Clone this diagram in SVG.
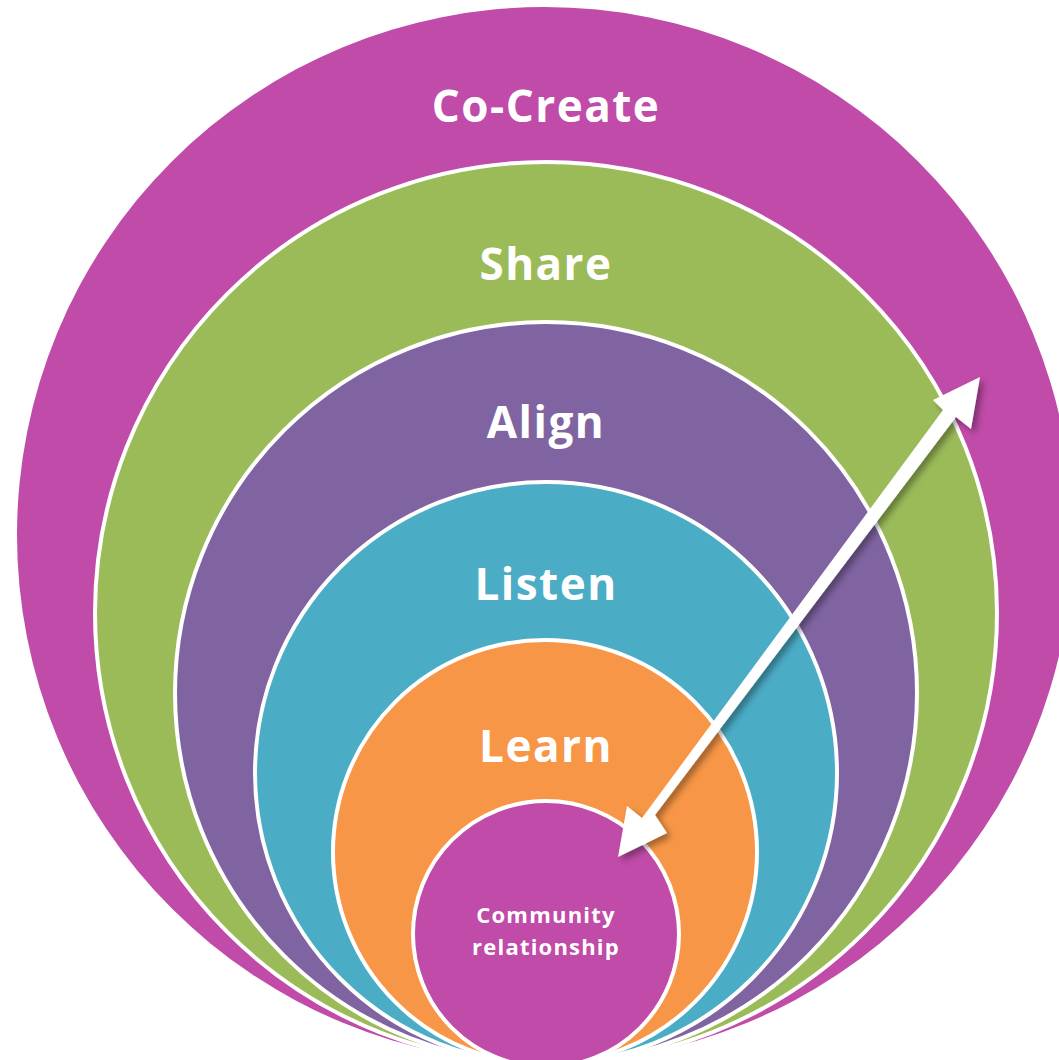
<svg xmlns="http://www.w3.org/2000/svg" width="1059" height="1060" viewBox="0 0 1059 1060">
<defs>
<style>
.ring{stroke:#fff;stroke-width:4}
.lbl{font-family:"Open Sans","Liberation Sans",sans-serif;font-weight:700;fill:#fff;text-anchor:middle}
.big{font-size:44px;letter-spacing:1.5px}
.small{font-size:22px;letter-spacing:1.2px}
</style>
<filter id="sh" x="-20%" y="-20%" width="140%" height="140%">
<feDropShadow dx="4" dy="4" stdDeviation="3" flood-color="#000" flood-opacity="0.35"/>
</filter>
</defs>
<rect width="1059" height="1060" fill="#fff"/>
<g id="co-create"><circle cx="545" cy="535" r="528" fill="#C04BA8"/><text class="lbl big" x="546" y="122">Co-Create</text></g>
<g id="share"><circle class="ring" cx="546" cy="613" r="451" fill="#9BBB59"/><text class="lbl big" x="546" y="280">Share</text></g>
<g id="align"><circle class="ring" cx="546" cy="693" r="371" fill="#8064A2"/><text class="lbl big" x="546" y="438">Align</text></g>
<g id="listen"><circle class="ring" cx="546" cy="773" r="291" fill="#4BACC6"/><text class="lbl big" x="546" y="600">Listen</text></g>
<g id="learn"><circle class="ring" cx="545" cy="852" r="212" fill="#F79646"/><text class="lbl big" x="546" y="762">Learn</text></g>
<g id="community"><circle class="ring" cx="546" cy="934" r="133" fill="#C04BA8"/><text class="lbl small" x="546" y="923">Community</text><text class="lbl small" x="546" y="955">relationship</text></g>
<g id="connectors" filter="url(#sh)">
<polygon fill="#fff" points="980,377 971,429 956,417 655,815 667,833 618,857 627,806 642,818 943,410 933,400"/>
</g>
</svg>
